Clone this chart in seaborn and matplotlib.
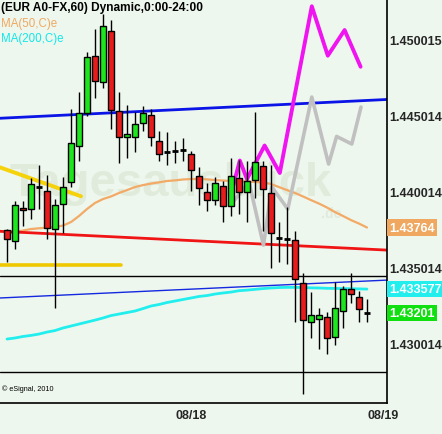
import matplotlib
matplotlib.use("Agg")
import matplotlib.pyplot as plt
import seaborn as sns
import numpy as np
import pandas as pd

# ---------------- data ----------------
opens = [1.43749,1.43675,1.43893,1.43884,1.44029,1.44005,1.43754,1.43917,1.44066,1.44304,
         1.44518,1.44894,1.44722,1.45063,1.44535,1.44359,1.44361,1.44452,1.44504,1.44333,
         1.44260,1.44269,1.44277,1.44251,1.44106,1.44000,1.43943,1.44040,1.43904,1.44089,
         1.43996,1.44075,1.44172,1.43990,1.43697,1.43690,1.43681,1.43396,1.43142,1.43158,
         1.43171,1.43039,1.43215,1.43358,1.43305,1.43201]
highs = [1.43754,1.43941,1.43941,1.44089,1.44176,1.44110,1.43952,1.44095,1.44543,1.44658,
         1.44920,1.45074,1.45176,1.45135,1.44660,1.44572,1.44524,1.44564,1.44546,1.44403,
         1.44392,1.44337,1.44353,1.44269,1.44161,1.44056,1.44099,1.44073,1.44223,1.44209,
         1.44203,1.44524,1.44205,1.44176,1.43798,1.43899,1.43743,1.43462,1.43340,1.43233,
         1.43204,1.43402,1.43380,1.43462,1.43343,1.43292]
lows = [1.43538,1.43622,1.43772,1.43820,1.43886,1.43688,1.43233,1.43728,1.44029,1.44205,
        1.44498,1.44617,1.44683,1.44414,1.44190,1.44221,1.44264,1.44403,1.44304,1.44205,
        1.44178,1.44190,1.44205,1.44007,1.43914,1.43875,1.43912,1.43798,1.43838,1.43855,
        1.43798,1.43957,1.43743,1.43495,1.43534,1.43521,1.43142,1.42665,1.43035,1.42962,
        1.42929,1.42990,1.43101,1.43266,1.43138,1.43142]
closes = [1.43688,1.43912,1.43877,1.44051,1.44031,1.43763,1.43910,1.44029,1.44322,1.44518,
          1.44887,1.44729,1.45092,1.44539,1.44363,1.44383,1.44445,1.44518,1.44361,1.44247,
          1.44260,1.44269,1.44277,1.44141,1.44023,1.43943,1.44056,1.43908,1.44102,1.43996,
          1.44073,1.44194,1.44018,1.43726,1.43697,1.43690,1.43424,1.43155,1.43186,1.43186,
          1.43033,1.43231,1.43356,1.43323,1.43224,1.43201]

ma50 = [1.43721,1.43734,1.43744,1.43754,1.43759,1.43763,1.43767,1.43777,1.43800,1.43840,
        1.43886,1.43926,1.43952,1.43969,1.43992,1.44011,1.44031,1.44044,1.44054,1.44062,
        1.44071,1.44075,1.44081,1.44084,1.44084,1.44082,1.44077,1.44074,1.44071,1.44069,
        1.44068,1.44064,1.44062,1.44051,1.44031,1.44011,1.43992,1.43969,1.43945,1.43922,
        1.43896,1.43866,1.43840,1.43813,1.43790,1.43764]
ma200 = [1.43028,1.43035,1.43045,1.43052,1.43061,1.43074,1.43084,1.43101,1.43114,1.43127,
         1.43140,1.43153,1.43167,1.43183,1.43193,1.43203,1.43213,1.43229,1.43246,1.43256,
         1.43269,1.43279,1.43289,1.43299,1.43309,1.43315,1.43325,1.43332,1.43338,1.43347,
         1.43351,1.43356,1.43361,1.43365,1.43368,1.43369,1.43369,1.43368,1.43366,1.43365,
         1.43363,1.43362,1.43361,1.43360,1.43359,1.433577]

magenta_x = [28.3, 29.1, 30.0, 32.2, 34.1, 38.1, 40.1, 42.2, 44.2]
magenta_y = [1.44044, 1.44206, 1.44084, 1.44305, 1.44124, 1.45224, 1.44898, 1.45067, 1.44825]
gray_x = [28.25, 30.25, 32.06, 33.1, 35.1, 38.1, 40.2, 41.2, 43.1, 44.25]
gray_y = [1.43932, 1.44064, 1.43648, 1.44031, 1.43886, 1.44625, 1.44183, 1.44365, 1.44315, 1.44559]

blue_trend_x = [-0.875, 47.5]; blue_trend_y = [1.44485, 1.44609]
red_trend_x = [-0.875, 47.5]; red_trend_y = [1.43739, 1.43615]
thin_blue_x = [-0.875, 47.5]; thin_blue_y = [1.43299, 1.43417]
yellow_diag_x = [-0.875, 9.25]; yellow_diag_y = [1.44161, 1.43970]
yellow_flat_x = [-0.875, 14.25]; yellow_flat_y = [1.43516, 1.43516]
black_levels = [1.43444, 1.42812]

ytick_vals = [1.430014, 1.435014, 1.440014, 1.445014, 1.450015]
ytick_labels = ["1.430014", "1.435014", "1.440014", "1.445014", "1.450015"]
xtick_pos = [21, 45]
xtick_labels = ["08/18", "08/19"]
title = "(EUR A0-FX,60) Dynamic,0:00-24:00"

# ---------------- style ----------------
BG = "#eef7ee"
sns.set_style("white", rc={"axes.facecolor": BG, "figure.facecolor": BG})
plt.rcParams["font.family"] = ["Liberation Sans", "DejaVu Sans"]

fig = plt.figure(figsize=(4.42, 4.35), dpi=100)
ax = fig.add_axes([0, 31/435, 387/442, 404/435])
ax.set_xlim(-0.875, 47.5)
ax.set_ylim(1.42606, 1.45272)

# watermark
ax.text(0.44, 0.545, "Tagesausblick", transform=ax.transAxes, ha="center", va="center",
        fontsize=34, fontweight="bold", color="#e0ebdb", zorder=0)
ax.text(0.855, 0.47, ".de", transform=ax.transAxes, ha="center", va="center",
        fontsize=10, fontweight="bold", color="#e0ebdb", zorder=0)

# lines
df50 = pd.DataFrame({"i": np.arange(len(ma50)), "v": ma50})
df200 = pd.DataFrame({"i": np.arange(len(ma200)), "v": ma200})
sns.lineplot(data=df200, x="i", y="v", ax=ax, color="#22eeee", lw=2.0, zorder=2)
sns.lineplot(data=df50, x="i", y="v", ax=ax, color="#f2aa66", lw=1.6, zorder=2)
ax.plot(blue_trend_x, blue_trend_y, color="#0a14e6", lw=2.0, zorder=2)
ax.plot(red_trend_x, red_trend_y, color="#f01414", lw=2.0, zorder=2)
ax.plot(thin_blue_x, thin_blue_y, color="#1428e0", lw=1.0, zorder=2)
ax.plot(yellow_diag_x, yellow_diag_y, color="#f5d20a", lw=2.8, zorder=2)
ax.plot(yellow_flat_x, yellow_flat_y, color="#f0c800", lw=2.6, zorder=2)
for lv in black_levels:
    ax.axhline(lv, color="black", lw=1.0, zorder=2)
sns.lineplot(x=gray_x, y=gray_y, ax=ax, color="#c0c0c0", lw=2.6, zorder=2, sort=False)
sns.lineplot(x=magenta_x, y=magenta_y, ax=ax, color="#f014f0", lw=2.8, zorder=2, sort=False)

# candles
idx = np.arange(len(opens))
o = np.array(opens); c = np.array(closes)
ax.vlines(idx, lows, highs, color="black", lw=1.0, zorder=3)
body_w = 0.7
for i in idx:
    if abs(c[i] - o[i]) < 0.00004:
        ax.hlines(c[i], i - body_w/2, i + body_w/2, color="black", lw=2.0, zorder=4)
    else:
        col = "#1ee61e" if c[i] > o[i] else "#e81c1c"
        ax.bar(i, abs(c[i] - o[i]), bottom=min(o[i], c[i]), width=body_w,
               color=col, edgecolor="black", linewidth=1.0, zorder=4)

ax.set_xlabel(""); ax.set_ylabel("")

# axes / spines
for s in ["top", "left"]:
    ax.spines[s].set_visible(False)
for s in ["right", "bottom"]:
    ax.spines[s].set_visible(True)
    ax.spines[s].set_color("black")
    ax.spines[s].set_linewidth(1.2)

ax.yaxis.tick_right()
ax.set_yticks(ytick_vals)
ax.set_yticklabels(ytick_labels, fontsize=9, fontweight="bold")
ax.tick_params(axis="y", length=0, pad=1.5)
ax.set_xticks(xtick_pos)
ax.set_xticklabels(xtick_labels, fontsize=9, fontweight="bold", ha="left")
ax.tick_params(axis="x", direction="in", length=3, width=1, pad=4)

# colored value boxes
tr = ax.get_yaxis_transform()
boxes = [(ma50[-1], "1.43764", "#f0a860"), (ma200[-1], "1.433577", "#22eeee"), (closes[-1], "1.43201", "#10e010")]
for val, txt, col in boxes:
    ax.text(1.006, val, txt, transform=tr, ha="left", va="center", fontsize=9, fontweight="bold",
            color="white", clip_on=False,
            bbox=dict(boxstyle="square,pad=0.18", fc=col, ec="none"))

# texts
fig.text(0.002, 1 - 1.5/435, title, ha="left", va="top", fontsize=8.6, fontweight="bold", color="black")
fig.text(0.002, 1 - 18/435, "MA(50,C)e", ha="left", va="top", fontsize=8.3, color="#f0a860")
fig.text(0.002, 1 - 33/435, "MA(200,C)e", ha="left", va="top", fontsize=8.3, color="#10e8e8")
ax.text(0.004, 0.028, "© eSignal, 2010", transform=ax.transAxes, ha="left", va="bottom",
        fontsize=5.2, color="black")

fig.savefig("out.png", dpi=100, facecolor=BG)
